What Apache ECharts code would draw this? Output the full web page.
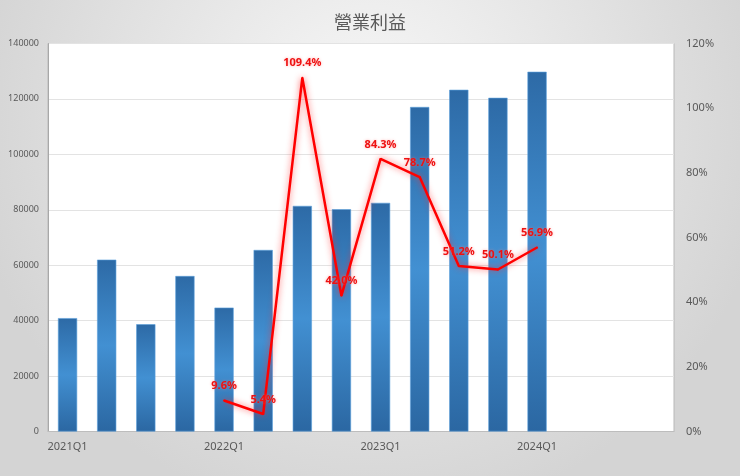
<!DOCTYPE html>
<html>
<head>
<meta charset="utf-8">
<script src="https://cdn.jsdelivr.net/npm/echarts@6/dist/echarts.min.js"></script>
<style>html,body{margin:0;padding:0;}#c{width:740px;height:476px;}</style>
</head>
<body>
<div id="c"></div>
<script>
const categories = ['2021Q1','2021Q2','2021Q3','2021Q4','2022Q1','2022Q2','2022Q3','2022Q4','2023Q1','2023Q2','2023Q3','2023Q4','2024Q1','2024Q2','2024Q3','2024Q4'];
const profit = [40900, 62000, 38700, 56100, 44700, 65500, 81400, 80200, 82500, 117100, 123300, 120400, 129800, null, null, null];
const growthPct = [null, null, null, null, 9.6, 5.4, 109.4, 42.0, 84.3, 78.7, 51.2, 50.1, 56.9, null, null, null];
const leftTicks = {min: 0, max: 140000, interval: 20000};
const rightTicks = {min: 0, max: 120, interval: 20};

const chart = echarts.init(document.getElementById('c'));
const font = '"Noto Sans", "Open Sans", sans-serif';
chart.setOption({
  backgroundColor: {
    type: 'radial', x: 0.5, y: 0.25, r: 0.85,
    colorStops: [{offset: 0, color: '#f8f8f8'}, {offset: 1, color: '#d4d4d4'}]
  },
  title: {
    text: '營業利益', left: 'center', top: 8,
    textStyle: {fontFamily: '"Noto Sans CJK TC", sans-serif', fontSize: 18, fontWeight: 'normal', color: '#595959'}
  },
  grid: {
    left: 48, right: 66, top: 43.5, bottom: 44.5,
    show: true, backgroundColor: '#ffffff', borderColor: '#b8b8b8', borderWidth: 1
  },
  xAxis: {
    type: 'category', data: categories, boundaryGap: true,
    axisLine: {show: true, lineStyle: {color: '#bdbdbd'}},
    axisTick: {show: false},
    axisLabel: {interval: 3, fontFamily: font, fontSize: 11, color: '#595959', margin: 10}
  },
  yAxis: [
    {
      type: 'value', min: leftTicks.min, max: leftTicks.max, interval: leftTicks.interval,
      axisLine: {show: true, lineStyle: {color: '#a8a8a8'}},
      axisTick: {show: false},
      axisLabel: {fontFamily: font, fontSize: 9, color: '#595959', margin: 9, formatter: v => String(v)},
      splitLine: {lineStyle: {color: '#e3e3e3'}}
    },
    {
      type: 'value', min: rightTicks.min, max: rightTicks.max, interval: rightTicks.interval,
      axisLine: {show: false}, axisTick: {show: false},
      axisLabel: {fontFamily: font, fontSize: 11, color: '#595959', margin: 12, formatter: '{value}%'},
      splitLine: {show: false}
    }
  ],
  series: [
    {
      type: 'bar', data: profit, barWidth: '49%', yAxisIndex: 0,
      itemStyle: {
        color: {
          type: 'linear', x: 0, y: 0, x2: 0, y2: 1,
          colorStops: [
            {offset: 0, color: '#2d6aa6'},
            {offset: 0.5, color: '#4290d2'},
            {offset: 1, color: '#2b67a2'}
          ]
        },
        borderColor: '#5a9fdc', borderWidth: 0.6
      }
    },
    {
      type: 'line', data: growthPct, yAxisIndex: 1, showSymbol: true, symbol: 'circle', symbolSize: 2,
      itemStyle: {color: '#ff0000'},
      connectNulls: false, z: 5,
      lineStyle: {color: '#ff0000', width: 2.5, shadowColor: 'rgba(255,40,40,0.7)', shadowBlur: 6},
      label: {
        show: true, position: 'top', distance: 8,
        formatter: function (p) { return Number(p.value).toFixed(1) + '%'; },
        fontFamily: font, fontSize: 11, fontWeight: 'bold', color: '#ee1111',
        textShadowColor: 'rgba(255,120,120,0.6)', textShadowBlur: 3
      },
      labelLayout: {hideOverlap: false}
    }
  ]
});
</script>
</body>
</html>
